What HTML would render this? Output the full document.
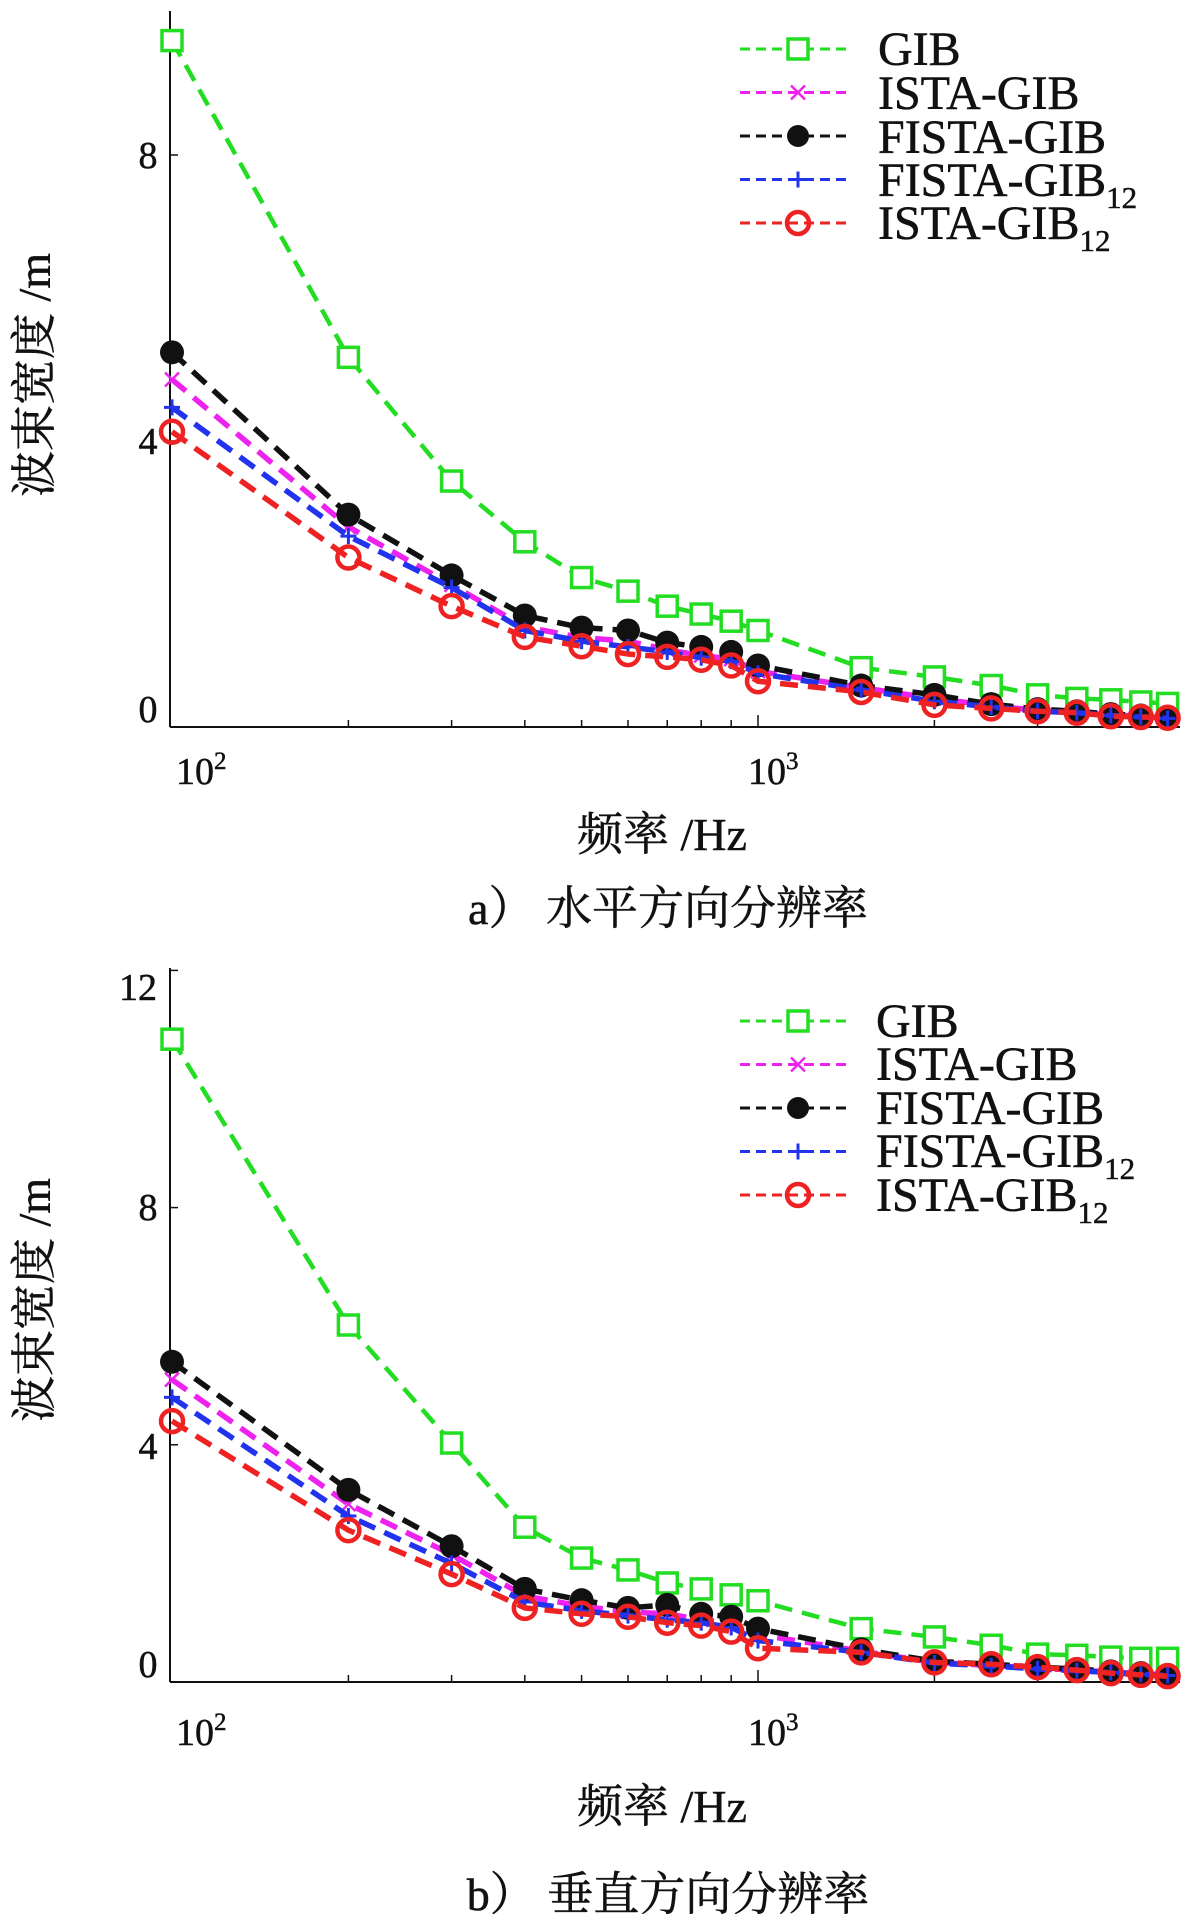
<!DOCTYPE html>
<html><head><meta charset="utf-8"><style>
html,body{margin:0;padding:0;background:#fff;}
svg text{font-family:"Liberation Serif","Noto Serif CJK SC",serif;fill:#111;stroke:#111;stroke-width:0.5;}
</style></head><body>
<svg id="s" width="1200" height="1914" xmlns="http://www.w3.org/2000/svg">
<rect width="1200" height="1914" fill="#fff"/>
<g id="plots"></g>
<!-- top texts -->
<text x="148" y="168" font-size="38" text-anchor="middle">8</text>
<text x="148" y="454" font-size="38" text-anchor="middle">4</text>
<text x="148" y="722" font-size="38" text-anchor="middle">0</text>
<text x="176" y="784" font-size="38">10<tspan font-size="25" dy="-15">2</tspan></text>
<text x="748" y="784" font-size="38">10<tspan font-size="25" dy="-15">3</tspan></text>
<text x="662" y="850" font-size="46" text-anchor="middle">频率 /Hz</text>
<text x="668" y="924" font-size="46" text-anchor="middle">a）  水平方向分辨率</text>
<text transform="translate(50,375) rotate(-90)" font-size="46" text-anchor="middle">波束宽度 /m</text>
<!-- bottom texts -->
<text x="138" y="1000" font-size="38" text-anchor="middle">12</text>
<text x="148" y="1220" font-size="38" text-anchor="middle">8</text>
<text x="148" y="1459" font-size="38" text-anchor="middle">4</text>
<text x="148" y="1677" font-size="38" text-anchor="middle">0</text>
<text x="176" y="1745" font-size="38">10<tspan font-size="25" dy="-15">2</tspan></text>
<text x="748" y="1745" font-size="38">10<tspan font-size="25" dy="-15">3</tspan></text>
<text x="662" y="1822" font-size="46" text-anchor="middle">频率 /Hz</text>
<text x="668" y="1910" font-size="46" text-anchor="middle">b）  垂直方向分辨率</text>
<text transform="translate(50,1300) rotate(-90)" font-size="46" text-anchor="middle">波束宽度 /m</text>
<!-- legends -->
<g font-size="48">
<text x="878" y="65">GIB</text>
<text x="878" y="109">ISTA-GIB</text>
<text x="878" y="153">FISTA-GIB</text>
<text x="878" y="196">FISTA-GIB<tspan font-size="31" dy="12">12</tspan></text>
<text x="878" y="239">ISTA-GIB<tspan font-size="31" dy="12">12</tspan></text>
<text x="876" y="1037">GIB</text>
<text x="876" y="1080">ISTA-GIB</text>
<text x="876" y="1124">FISTA-GIB</text>
<text x="876" y="1167">FISTA-GIB<tspan font-size="31" dy="12">12</tspan></text>
<text x="876" y="1211">ISTA-GIB<tspan font-size="31" dy="12">12</tspan></text>
</g>
</svg>
<script>
var NS="http://www.w3.org/2000/svg",G=document.getElementById("plots");
function el(t,a){var e=document.createElementNS(NS,t);for(var k in a)e.setAttribute(k,a[k]);G.appendChild(e);return e;}
var f=[100,200,300,400,500,600,700,800,900,1000,1500,2000,2500,3000,3500,4000,4500,5000];
function px(v){return 172+586*Math.log10(v/100);}
var cols={g:"#22dd22",m:"#ee22ee",k:"#111",b:"#2233ee",r:"#ee2222"};
function marker(t,x,y,big){
 var c=cols[t];
 if(t=="g")el("rect",{x:x-10,y:y-10,width:20,height:20,fill:"#fff",stroke:c,"stroke-width":3.5});
 if(t=="k")el("circle",{cx:x,cy:y,r:big?12:11,fill:"#111"});
 if(t=="r")el("circle",{cx:x,cy:y,r:11,fill:"none",stroke:c,"stroke-width":4.5});
 if(t=="b"){el("line",{x1:x-8,y1:y,x2:x+8,y2:y,stroke:c,"stroke-width":3});el("line",{x1:x,y1:y-8,x2:x,y2:y+8,stroke:c,"stroke-width":3});}
 if(t=="m"){el("line",{x1:x-7,y1:y-7,x2:x+7,y2:y+7,stroke:c,"stroke-width":2.5});el("line",{x1:x-7,y1:y+7,x2:x+7,y2:y-7,stroke:c,"stroke-width":2.5});}
}
function plot(y0,sc,top,data,leg){
 el("line",{x1:170,y1:top,x2:170,y2:y0,stroke:"#111","stroke-width":2});
 el("line",{x1:170,y1:y0,x2:1180,y2:y0,stroke:"#111","stroke-width":2});
 [200,300,400,500,600,700,800,900,1000,2000,3000,4000,5000].forEach(function(v){var x=px(v);el("line",{x1:x,y1:y0,x2:x,y2:y0-(v==1000?12:7),stroke:"#111","stroke-width":1.5});});
 for(var v=4;v*sc<=y0-top+1;v+=4)el("line",{x1:170,y1:y0-v*sc,x2:178,y2:y0-v*sc,stroke:"#111","stroke-width":1.5});
 ["g","m","k","b","r"].forEach(function(t){
  var pts=data[t].map(function(v,i){return px(f[i])+","+(y0-v*sc);}).join(" ");
  el("polyline",{points:pts,fill:"none",stroke:cols[t],"stroke-width":t=="g"?4.5:5.5,"stroke-dasharray":"18 10"});
  data[t].forEach(function(v,i){marker(t,px(f[i]),y0-v*sc,1);});
 });
 ["g","m","k","b","r"].forEach(function(t,i){
  var y=leg[0]+leg[1]*i;
  el("line",{x1:740,y1:y,x2:850,y2:y,stroke:cols[t],"stroke-width":3,"stroke-dasharray":"10 6"});
  marker(t,798,y,0);
 });
}
plot(727,71.5,11,{
 g:[9.6,5.17,3.44,2.59,2.09,1.9,1.69,1.58,1.48,1.35,0.83,0.7,0.58,0.45,0.4,0.38,0.35,0.33],
 k:[5.24,2.97,2.12,1.56,1.39,1.35,1.18,1.12,1.05,0.86,0.58,0.45,0.32,0.25,0.22,0.18,0.16,0.12],
 m:[4.86,2.8,1.99,1.4,1.25,1.2,1.08,1.0,0.95,0.78,0.55,0.4,0.3,0.23,0.2,0.17,0.15,0.12],
 b:[4.47,2.67,1.95,1.35,1.2,1.12,1.05,0.97,0.92,0.75,0.52,0.36,0.28,0.22,0.2,0.16,0.14,0.12],
 r:[4.13,2.37,1.69,1.26,1.13,1.02,0.98,0.94,0.86,0.64,0.49,0.31,0.26,0.22,0.2,0.15,0.14,0.13]
},[49,43.5]);
plot(1682,59.3,968,{
 g:[10.84,6.02,4.03,2.61,2.09,1.89,1.67,1.57,1.47,1.37,0.9,0.76,0.62,0.47,0.45,0.42,0.4,0.4],
 k:[5.4,3.24,2.29,1.57,1.38,1.25,1.3,1.15,1.1,0.9,0.55,0.35,0.3,0.25,0.22,0.18,0.15,0.12],
 m:[5.1,3.0,2.15,1.45,1.28,1.18,1.15,1.05,1.0,0.8,0.52,0.33,0.28,0.23,0.2,0.17,0.14,0.12],
 b:[4.8,2.8,2.0,1.35,1.2,1.12,1.05,1.0,0.92,0.7,0.5,0.32,0.27,0.22,0.19,0.16,0.13,0.11],
 r:[4.4,2.56,1.82,1.25,1.15,1.1,1.0,0.95,0.85,0.57,0.5,0.33,0.3,0.25,0.2,0.15,0.12,0.1]
},[1021,43.5]);
</script>
</body></html>
